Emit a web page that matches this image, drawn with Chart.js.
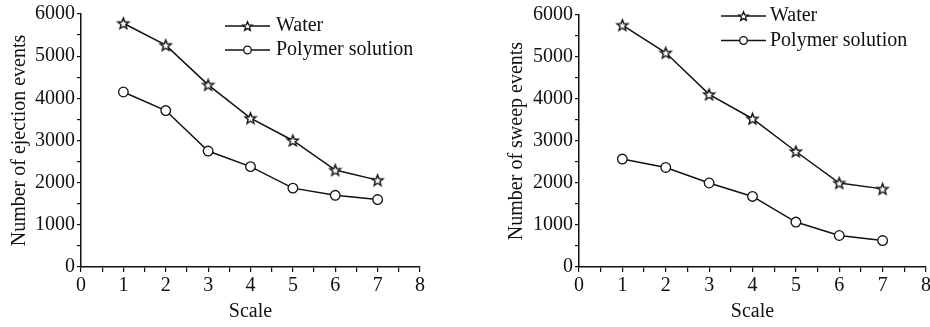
<!DOCTYPE html>
<html>
<head>
<meta charset="utf-8">
<script src="https://cdn.jsdelivr.net/npm/chart.js@4"></script>
<style>
  html, body { margin: 0; padding: 0; background: #fff; overflow: hidden; }
  body { width: 930px; height: 327px; position: relative; }
  canvas { position: absolute; top: 0; }
  #ejection { left: 0; }
  #sweep { left: 490px; }
</style>
</head>
<body>
<canvas id="ejection" width="460" height="327"></canvas>
<canvas id="sweep" width="445" height="327"></canvas>
<script>
// data
const SCALES = [1, 2, 3, 4, 5, 6, 7];
const EJECTION_WATER = [5780, 5260, 4320, 3530, 3000, 2300, 2060];
const EJECTION_POLYMER = [4150, 3710, 2750, 2380, 1870, 1700, 1600];
const SWEEP_WATER = [5760, 5100, 4110, 3530, 2750, 2000, 1860];
const SWEEP_POLYMER = [2570, 2370, 2000, 1680, 1070, 750, 630];
const SERIES_NAMES = ['Water', 'Polymer solution'];
const X_RANGE = [0, 8];
const Y_RANGE = [0, 6000];

const INK = '#111';
const FONT = { family: '"Liberation Serif", "Times New Roman", serif', size: 20 };

function starPath(ctx, cx, cy, R, r) {
  ctx.beginPath();
  for (let k = 0; k < 10; k++) {
    const rad = k % 2 === 0 ? R : r;
    const a = -Math.PI / 2 + k * Math.PI / 5;
    const px = cx + rad * Math.cos(a), py = cy + rad * Math.sin(a);
    if (k === 0) ctx.moveTo(px, py); else ctx.lineTo(px, py);
  }
  ctx.closePath();
}

function makeStar(R, r) {
  const c = document.createElement('canvas');
  const s = Math.ceil(R * 2 + 3);
  c.width = s; c.height = s;
  const g = c.getContext('2d');
  starPath(g, s / 2, s / 2 + 0.5, R, r);
  g.fillStyle = '#fff'; g.fill();
  g.lineWidth = 1.4; g.strokeStyle = INK; g.stroke();
  return c;
}

const STAR = makeStar(5.8, 2.5);

// legend with a line through the marker, like the original
const lineLegend = {
  id: 'lineLegend',
  afterDraw(chart, args, opts) {
    const ctx = chart.ctx;
    ctx.save();
    ctx.font = FONT.size + 'px ' + FONT.family;
    ctx.textBaseline = 'middle';
    ctx.fillStyle = INK;
    chart.data.datasets.forEach((ds, i) => {
      const y = opts.y + i * opts.rowGap;
      const cx = opts.x + opts.len / 2;
      ctx.strokeStyle = INK;
      ctx.lineWidth = 1.5;
      ctx.beginPath();
      ctx.moveTo(opts.x, y);
      ctx.lineTo(opts.x + opts.len, y);
      ctx.stroke();
      ctx.lineWidth = 1.3;
      if (i === 0) starPath(ctx, cx, y + 0.5, 4.8, 2.1);
      else { ctx.beginPath(); ctx.arc(cx, y, 3.8, 0, Math.PI * 2); }
      ctx.fillStyle = '#fff'; ctx.fill(); ctx.stroke();
      ctx.fillStyle = INK;
      ctx.fillText(ds.label, opts.x + opts.len + opts.gap, y);
    });
    ctx.restore();
  }
};

function series(label, values, marker) {
  return {
    label,
    data: SCALES.map((x, i) => ({ x, y: values[i] })),
    borderColor: INK,
    borderWidth: 1.5,
    pointStyle: marker,
    pointRadius: marker === 'circle' ? 4.8 : 6,
    pointBackgroundColor: '#fff',
    pointBorderColor: INK,
    pointBorderWidth: 1.3,
    tension: 0,
    clip: false
  };
}

function createPlot(id, yTitle, water, polymer, lay) {
  const ctx = document.getElementById(id);
  return new Chart(ctx, {
    type: 'line',
    data: {
      datasets: [
        series(SERIES_NAMES[0], water, STAR),
        series(SERIES_NAMES[1], polymer, 'circle')
      ]
    },
    options: {
      responsive: false,
      animation: false,
      layout: { padding: { top: lay.top, right: lay.right, bottom: 0, left: 0 } },
      plugins: {
        legend: { display: false },
        tooltip: { enabled: false },
        lineLegend: lay.legend
      },
      scales: {
        x: {
          type: 'linear',
          min: X_RANGE[0], max: X_RANGE[1],
          afterFit: s => { s.height = 60; },
          grid: { drawOnChartArea: false, drawTicks: true, tickLength: 5, color: INK, lineWidth: 1.2 },
          border: { display: true, color: INK, width: 1.5 },
          ticks: {
            stepSize: 0.5, autoSkip: false, maxRotation: 0, padding: 2,
            color: INK, font: FONT,
            callback: v => Number.isInteger(v) ? String(v) : ''
          },
          title: { display: true, text: 'Scale', color: INK, font: FONT, padding: { top: 0, bottom: 3 } }
        },
        y: {
          min: Y_RANGE[0], max: Y_RANGE[1],
          afterFit: s => { s.width = lay.axisWidth; },
          grid: { drawOnChartArea: false, drawTicks: true, tickLength: 4, color: INK, lineWidth: 1.2 },
          border: { display: true, color: INK, width: 1.5 },
          ticks: {
            stepSize: 500, autoSkip: false, padding: 2,
            color: INK, font: FONT,
            callback: v => v % 1000 === 0 ? String(v) : ''
          },
          title: { display: true, text: yTitle, color: INK, font: FONT, padding: { top: lay.titlePad, bottom: 0 } }
        }
      }
    },
    plugins: [lineLegend]
  });
}

window.addEventListener('DOMContentLoaded', () => {
  createPlot('ejection', 'Number of ejection events', EJECTION_WATER, EJECTION_POLYMER, {
    top: 14, right: 40, axisWidth: 81, titlePad: 8,
    legend: { x: 225, len: 45, y: 26, rowGap: 24, gap: 6 }
  });
  createPlot('sweep', 'Number of sweep events', SWEEP_WATER, SWEEP_POLYMER, {
    top: 15, right: 9, axisWidth: 89, titlePad: 15,
    legend: { x: 231, len: 45, y: 16, rowGap: 24.5, gap: 4 }
  });
});
</script>
</body>
</html>
